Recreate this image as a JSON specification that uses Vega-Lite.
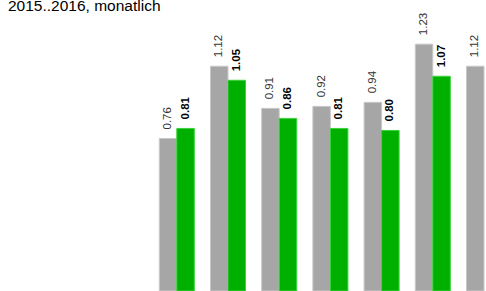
{
  "$schema": "https://vega.github.io/schema/vega-lite/v6.json",
  "width": 486,
  "height": 291,
  "padding": 0,
  "autosize": {"type": "none"},
  "background": "white",
  "config": {"view": {"stroke": null}},
  "title": {
    "text": "2015..2016, monatlich",
    "anchor": "start",
    "frame": "group",
    "orient": "top",
    "baseline": "alphabetic",
    "offset": 0,
    "dy": 26.5,
    "dx": 8,
    "font": "Liberation Sans",
    "fontSize": 15.5,
    "fontWeight": "normal",
    "color": "#000000"
  },
  "data": {
    "values": [
      {"g": "1", "yr": "2015", "v": 0.76},
      {"g": "1", "yr": "2016", "v": 0.81},
      {"g": "2", "yr": "2015", "v": 1.12},
      {"g": "2", "yr": "2016", "v": 1.05},
      {"g": "3", "yr": "2015", "v": 0.91},
      {"g": "3", "yr": "2016", "v": 0.86},
      {"g": "4", "yr": "2015", "v": 0.92},
      {"g": "4", "yr": "2016", "v": 0.81},
      {"g": "5", "yr": "2015", "v": 0.94},
      {"g": "5", "yr": "2016", "v": 0.80},
      {"g": "6", "yr": "2015", "v": 1.23},
      {"g": "6", "yr": "2016", "v": 1.07},
      {"g": "7", "yr": "2015", "v": 1.12}
    ]
  },
  "encoding": {
    "x": {
      "field": "g",
      "type": "nominal",
      "axis": null,
      "scale": {
        "domain": ["1", "2", "3", "4", "5", "6", "7"],
        "range": [151.2, 509.6],
        "paddingInner": 0.316,
        "paddingOuter": 0.158
      }
    },
    "xOffset": {
      "field": "yr",
      "type": "nominal",
      "scale": {"domain": ["2015", "2016"], "paddingInner": 0, "paddingOuter": 0}
    },
    "y": {
      "field": "v",
      "type": "quantitative",
      "axis": null,
      "scale": {"domain": [0, 1.45], "nice": false, "zero": true}
    }
  },
  "layer": [
    {
      "mark": {"type": "bar", "strokeWidth": 1, "clip": false},
      "encoding": {
        "color": {
          "field": "yr",
          "type": "nominal",
          "legend": null,
          "scale": {"domain": ["2015", "2016"], "range": ["#a6a6a6", "#00b000"]}
        },
        "stroke": {
          "field": "yr",
          "type": "nominal",
          "legend": null,
          "scale": {"domain": ["2015", "2016"], "range": ["#c8c8c8", "#3cd23c"]}
        }
      }
    },
    {
      "transform": [{"filter": "datum.yr == '2015'"}],
      "mark": {
        "type": "text",
        "angle": 270,
        "align": "left",
        "baseline": "middle",
        "dx": 9,
        "font": "Liberation Sans",
        "fontSize": 11.5,
        "fontWeight": "normal",
        "color": "#333333"
      },
      "encoding": {"text": {"field": "v", "type": "quantitative", "format": ".2f"}}
    },
    {
      "transform": [{"filter": "datum.yr == '2016'"}],
      "mark": {
        "type": "text",
        "angle": 270,
        "align": "left",
        "baseline": "middle",
        "dx": 9,
        "font": "Liberation Sans",
        "fontSize": 11.5,
        "fontWeight": "bold",
        "color": "#000000"
      },
      "encoding": {"text": {"field": "v", "type": "quantitative", "format": ".2f"}}
    }
  ]
}
